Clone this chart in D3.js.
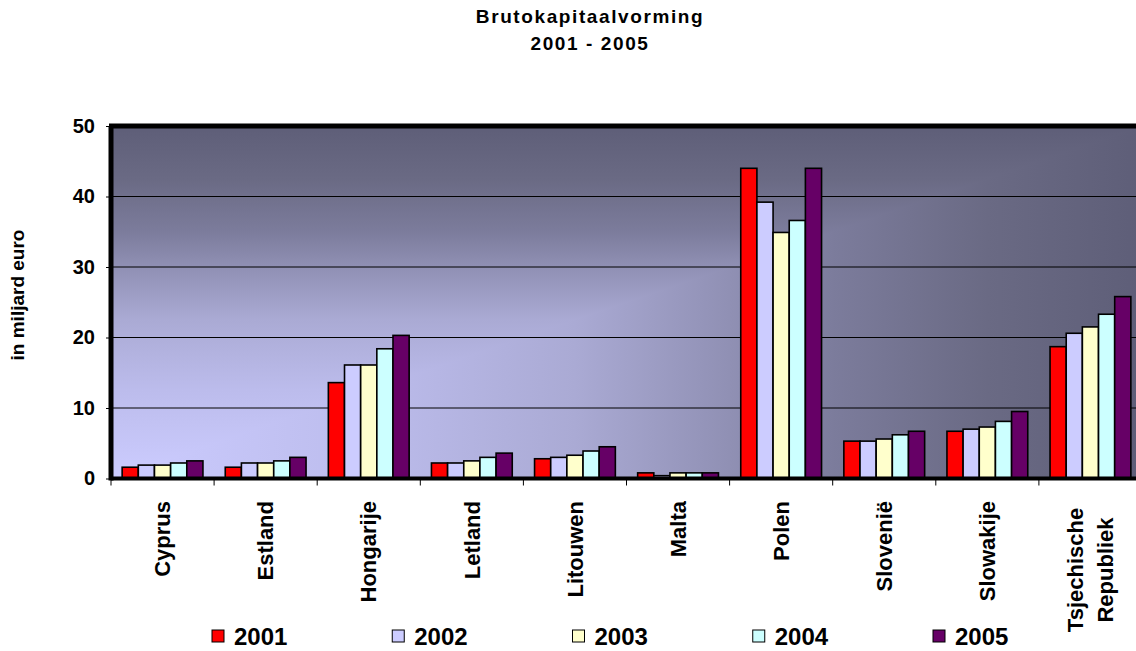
<!DOCTYPE html>
<html>
<head>
<meta charset="utf-8">
<script src="https://cdn.jsdelivr.net/npm/d3@7"></script>
<style>
    body { margin: 0; background: #fff; }
    svg { display: block; font-family: "Liberation Sans", Arial, sans-serif; font-weight: bold; }
</style>
</head>
<body>
<svg id="chart" width="1136" height="651"></svg>
<script>
    // landen (tweede regel na \n)
    const countries = ["Cyprus", "Estland", "Hongarije", "Letland", "Litouwen",
        "Malta", "Polen", "Slovenië", "Slowakije", "Tsjechische\nRepubliek"];
    const years = ["2001", "2002", "2003", "2004", "2005"];
    const colors = ["#ff0000", "#ccccff", "#ffffcc", "#ccffff", "#660066"];
    const yTicks = [0, 10, 20, 30, 40, 50];

    // in miljard euro, per jaar
    const v2001 = [1.6, 1.6, 13.6, 2.2, 2.8, 0.8, 44.0, 5.3, 6.7, 18.7];
    const v2002 = [1.9, 2.2, 16.1, 2.2, 3.0, 0.4, 39.2, 5.3, 7.0, 20.6];
    const v2003 = [1.9, 2.2, 16.1, 2.5, 3.3, 0.8, 34.9, 5.6, 7.3, 21.5];
    const v2004 = [2.2, 2.5, 18.4, 3.0, 3.9, 0.8, 36.6, 6.2, 8.1, 23.3];
    const v2005 = [2.5, 3.0, 20.3, 3.6, 4.5, 0.8, 44.0, 6.7, 9.5, 25.8];
    const series = [v2001, v2002, v2003, v2004, v2005];

    const svg = d3.select("#chart");
    const pLeft = 111, pRight = 1142, pTop = 126, pBottom = 478.5;

    const x = d3.scaleBand().domain(countries).range([pLeft, pRight]);
    const x1 = d3.scaleBand().domain(years).range([0, x.bandwidth()]).paddingOuter(0.69);
    const y = d3.scaleLinear().domain([0, 50]).range([pBottom, pTop]);

    // achtergrond: twee verlopen, donkerste wint
    const defs = svg.append("defs");
    const stops = [[0, "#ccccff"], [0.25, "#bcbcec"], [0.45, "#aaaad4"], [0.6, "#9090b4"],
        [0.7, "#7c7c9c"], [0.85, "#6a6a84"], [1, "#5e5e78"]];
    const gv = defs.append("linearGradient").attr("id", "gv")
        .attr("x1", 0).attr("y1", 1).attr("x2", 0).attr("y2", 0);
    const gh = defs.append("linearGradient").attr("id", "gh")
        .attr("x1", 0).attr("y1", 0).attr("x2", 1).attr("y2", 0);
    stops.forEach(s => {
        gv.append("stop").attr("offset", s[0]).attr("stop-color", s[1]);
        gh.append("stop").attr("offset", s[0]).attr("stop-color", s[1]);
    });
    const bg = svg.append("g").style("isolation", "isolate");
    bg.append("rect").attr("x", pLeft).attr("y", pTop).attr("width", pRight - pLeft)
        .attr("height", pBottom - pTop).attr("fill", "url(#gv)");
    bg.append("rect").attr("x", pLeft).attr("y", pTop).attr("width", pRight - pLeft)
        .attr("height", pBottom - pTop).attr("fill", "url(#gh)")
        .style("mix-blend-mode", "darken");

    // rasterlijnen
    svg.append("g").selectAll("line")
        .data(yTicks.filter(d => d > 0 && d < 50))
        .join("line")
        .attr("x1", pLeft).attr("x2", pRight)
        .attr("y1", d => y(d)).attr("y2", d => y(d))
        .attr("stroke", "#000").attr("stroke-width", 1);

    // staven
    const groups = svg.append("g").selectAll("g")
        .data(countries)
        .join("g")
        .attr("transform", d => `translate(${x(d)},0)`);
    groups.selectAll("rect")
        .data((c, i) => years.map((yr, j) => ({ yr, j, v: series[j][i] })))
        .join("rect")
        .attr("x", d => x1(d.yr))
        .attr("width", x1.bandwidth())
        .attr("y", d => y(d.v))
        .attr("height", d => y(0) - y(d.v))
        .attr("fill", d => colors[d.j])
        .attr("stroke", "#000")
        .attr("stroke-width", 1.6);

    // kader en assen
    svg.append("line").attr("x1", pLeft - 2).attr("x2", pRight).attr("y1", pTop).attr("y2", pTop)
        .attr("stroke", "#000").attr("stroke-width", 5);
    svg.append("line").attr("x1", pLeft).attr("x2", pLeft).attr("y1", pTop).attr("y2", pBottom + 2)
        .attr("stroke", "#000").attr("stroke-width", 5);
    svg.append("line").attr("x1", pLeft).attr("x2", pRight).attr("y1", pBottom).attr("y2", pBottom)
        .attr("stroke", "#000").attr("stroke-width", 4);

    // y-as
    const yAxis = svg.append("g").attr("transform", `translate(${pLeft},0)`)
        .call(d3.axisLeft(y).tickValues(yTicks).tickSize(5).tickPadding(11));
    yAxis.select(".domain").remove();
    yAxis.selectAll("line").attr("stroke", "#000");
    yAxis.selectAll("text").attr("font-size", 20).attr("font-weight", "bold")
        .attr("font-family", "Liberation Sans, Arial, sans-serif").attr("fill", "#000");

    // x-as streepjes
    svg.append("g").selectAll("line")
        .data(countries)
        .join("line")
        .attr("x1", d => x(d)).attr("x2", d => x(d))
        .attr("y1", pBottom).attr("y2", pBottom + 7)
        .attr("stroke", "#000").attr("stroke-width", 1);

    // x-labels
    svg.append("g").selectAll("text")
        .data(countries)
        .join("text")
        .attr("transform", d => {
            const lines = d.split("\n");
            const cy = lines.length > 1 ? 570 : 501;
            return `translate(${x(d) + x.bandwidth() / 2},${cy}) rotate(-90)`;
        })
        .attr("text-anchor", d => d.includes("\n") ? "middle" : "end")
        .attr("font-size", 22)
        .each(function (d) {
            const lines = d.split("\n");
            const t = d3.select(this);
            lines.forEach((ln, k) => {
                t.append("tspan").attr("x", 0)
                    .attr("y", (k - (lines.length - 1) / 2) * 30)
                    .attr("dy", "0.35em").text(ln);
            });
        });

    // y-titel
    svg.append("text")
        .attr("transform", "translate(24,295) rotate(-90)")
        .attr("text-anchor", "middle")
        .attr("font-size", 19)
        .text("in miljard euro");

    // titel
    const title = svg.append("text").attr("text-anchor", "middle")
        .attr("font-size", 19).attr("letter-spacing", 1.6);
    title.append("tspan").attr("x", 590).attr("y", 23).text("Brutokapitaalvorming");
    title.append("tspan").attr("x", 590).attr("y", 50).text("2001 - 2005");

    // legenda
    const lx = d3.scaleLinear().domain([0, years.length - 1]).range([212, 933]);
    const leg = svg.append("g").selectAll("g")
        .data(years)
        .join("g")
        .attr("transform", (d, i) => `translate(${lx(i)},630)`);
    leg.append("rect").attr("width", 12).attr("height", 12)
        .attr("fill", (d, i) => colors[i]).attr("stroke", "#000").attr("stroke-width", 1);
    leg.append("text").attr("x", 22).attr("y", 15).attr("font-size", 24).text(d => d);
</script>
</body>
</html>
